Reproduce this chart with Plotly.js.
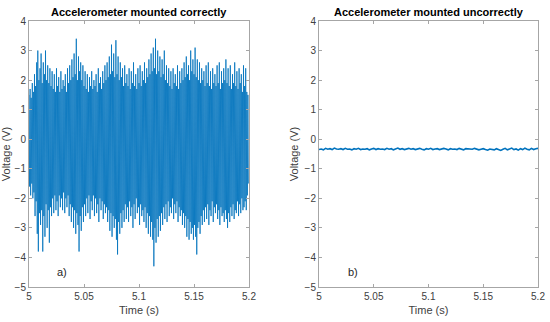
<!DOCTYPE html>
<html>
<head>
<meta charset="utf-8">
<script src="https://cdn.plot.ly/plotly-3.0.1.min.js"></script>
<style>html,body{margin:0;padding:0;background:#fff;}#chart{width:550px;height:322px;}</style>
</head>
<body>
<div id="chart"></div>
<script>
// Panel a): upper and lower peaks of the signal, one pair per millisecond from 5.000 s
const upperPeaksA = [
 1.5,1.7,1.4,1.9,1.6,2.2,1.8,2.6,3.0,2.0,
 2.4,2.9,1.9,2.6,2.2,3.0,2.0,2.5,1.9,2.4,
 1.8,2.3,1.7,2.2,1.6,2.4,1.8,2.1,1.6,2.3,
 1.7,2.0,1.8,2.2,1.6,2.4,1.9,2.5,2.0,2.7,
 2.1,2.9,2.2,3.4,2.0,2.8,2.3,2.6,2.0,2.5,
 1.8,2.3,1.7,2.2,1.6,2.1,1.8,2.3,1.7,2.0,
 1.8,2.2,1.6,2.4,1.9,2.1,1.7,2.3,1.9,2.5,
 2.0,2.6,2.1,2.8,2.2,3.2,2.3,2.9,2.1,3.35,
 2.2,2.8,2.0,2.6,2.1,2.4,1.8,2.5,1.9,2.2,
 1.8,2.4,1.7,2.3,1.9,2.6,1.8,2.2,1.7,2.4,
 1.9,2.5,1.8,2.3,2.0,2.6,1.9,2.4,2.1,2.7,
 2.2,2.9,2.3,3.1,2.4,3.4,2.2,3.0,2.3,2.8,
 2.1,2.7,2.2,3.0,2.0,2.5,1.9,2.4,1.8,2.3,
 1.7,2.4,1.9,2.2,1.8,2.5,1.7,2.3,1.9,2.4,
 2.0,2.6,2.1,2.8,2.2,2.5,2.0,3.0,2.3,2.7,
 2.2,3.1,2.1,2.7,2.0,2.6,1.9,2.4,2.0,2.3,
 1.8,2.5,1.9,2.6,1.8,2.3,1.7,2.4,1.9,2.2,
 1.8,2.5,1.9,2.6,1.7,2.3,1.9,2.4,2.0,2.7,
 1.9,2.4,1.8,2.5,1.7,2.2,1.9,2.6,1.8,2.3,
 1.7,2.4,1.9,2.2,1.6,2.5,1.8,2.4,1.6,1.5
];
const lowerPeaksA = [
 -1.6,-1.9,-1.5,-2.0,-1.8,-2.6,-2.1,-3.2,-3.8,-2.5,
 -2.9,-2.4,-3.8,-2.6,-3.3,-2.2,-3.0,-2.4,-3.5,-2.3,
 -2.6,-2.0,-2.5,-1.9,-2.4,-2.1,-2.6,-1.9,-2.3,-2.0,
 -2.4,-1.8,-2.5,-2.0,-2.3,-1.9,-2.6,-2.2,-2.8,-2.3,
 -3.0,-2.4,-3.2,-2.5,-2.9,-3.8,-2.6,-3.1,-2.3,-2.8,
 -2.2,-2.6,-2.0,-2.5,-1.9,-2.7,-2.1,-2.4,-1.9,-2.6,
 -2.0,-2.5,-2.2,-2.8,-2.0,-2.4,-2.1,-2.7,-2.2,-2.5,
 -2.3,-2.8,-2.4,-3.1,-2.5,-3.3,-2.6,-3.0,-2.7,-3.4,
 -3.9,-2.8,-3.2,-2.5,-3.0,-2.4,-2.8,-2.2,-2.7,-2.3,
 -2.8,-2.1,-2.6,-2.3,-3.0,-2.2,-2.7,-2.0,-2.5,-2.3,
 -2.9,-2.2,-2.6,-2.4,-2.8,-2.3,-3.0,-2.5,-3.2,-2.6,
 -3.3,-2.8,-3.4,-4.3,-3.0,-3.5,-2.7,-3.3,-2.6,-3.1,
 -2.5,-2.9,-2.3,-2.7,-2.2,-2.8,-2.1,-2.6,-2.3,-2.5,
 -2.0,-2.7,-2.2,-2.5,-2.1,-2.8,-2.3,-2.6,-2.4,-2.9,
 -2.5,-3.0,-2.6,-3.3,-2.7,-3.4,-2.8,-3.2,-3.0,-3.4,
 -2.9,-3.3,-3.9,-3.0,-2.8,-3.2,-2.6,-2.9,-2.4,-2.8,
 -2.3,-2.7,-2.2,-2.9,-2.4,-2.6,-2.1,-2.8,-2.3,-2.5,
 -2.2,-2.7,-2.4,-2.9,-2.3,-2.6,-2.5,-2.8,-2.4,-2.7,
 -3.0,-2.5,-2.8,-2.3,-2.6,-2.2,-2.7,-2.4,-2.5,-2.1,
 -2.6,-2.2,-2.5,-2.0,-2.4,-2.3,-2.1,-2.4,-1.9,-1.5
];
// Panel b): voltage every 2 ms from 5.000 s
const voltageB = [
 -0.35,-0.33,-0.36,-0.31,-0.34,-0.32,-0.35,-0.30,-0.33,-0.34,
 -0.32,-0.35,-0.31,-0.34,-0.33,-0.36,-0.32,-0.34,-0.31,-0.35,
 -0.33,-0.34,-0.32,-0.36,-0.33,-0.31,-0.35,-0.32,-0.34,-0.33,
 -0.35,-0.31,-0.34,-0.32,-0.36,-0.33,-0.30,-0.34,-0.32,-0.35,
 -0.33,-0.31,-0.34,-0.32,-0.35,-0.33,-0.31,-0.34,-0.36,-0.32,
 -0.34,-0.31,-0.35,-0.33,-0.32,-0.35,-0.34,-0.31,-0.33,-0.36,
 -0.32,-0.34,-0.33,-0.35,-0.31,-0.34,-0.36,-0.32,-0.33,-0.35,
 -0.34,-0.31,-0.33,-0.36,-0.34,-0.32,-0.35,-0.37,-0.33,-0.34,
 -0.36,-0.32,-0.35,-0.38,-0.34,-0.31,-0.36,-0.33,-0.30,-0.35,
 -0.33,-0.37,-0.32,-0.35,-0.30,-0.34,-0.36,-0.31,-0.35,-0.32,-0.31
];
const xTickVals = [5, 5.05, 5.1, 5.15, 5.2];
const xTickText = ['5', '5.05', '5.1', '5.15', '5.2'];
const yTickVals = [-5, -4, -3, -2, -1, 0, 1, 2, 3, 4];
const panelTitles = ['Accelerometer mounted correctly', 'Accelerometer mounted uncorrectly'];
const panelLabels = ['a)', 'b)'];
const xTitle = 'Time (s)';
const yTitle = 'Voltage (V)';
const t0 = 5, dtA = 0.001, dtB = 0.002;

const xA = [], yA = [];
for (let i = 0; i < upperPeaksA.length; i++) {
  xA.push(t0 + i * dtA); yA.push(upperPeaksA[i]);
  xA.push(t0 + (i + 0.5) * dtA); yA.push(lowerPeaksA[i]);
}
const xB = voltageB.map((_, i) => t0 + i * dtB);

const blue = '#0072BD';
const traces = [
  {x: xA, y: yA, type: 'scatter', mode: 'lines', line: {color: blue, width: 0.8}, xaxis: 'x', yaxis: 'y', hoverinfo: 'skip'},
  {x: xB, y: voltageB, type: 'scatter', mode: 'lines', line: {color: blue, width: 1.6}, xaxis: 'x2', yaxis: 'y2', hoverinfo: 'skip'}
];

const fontFam = 'Liberation Sans, Arial, sans-serif';
const axisCommon = {
  showgrid: false, zeroline: false, showline: true, linecolor: '#a6a6a6', linewidth: 1,
  mirror: 'ticks', ticks: 'inside', ticklen: 3, tickcolor: '#a6a6a6',
  tickfont: {family: fontFam, size: 10, color: '#404040'},
  fixedrange: true
};
const xAxis = (dom, anchor) => Object.assign({}, axisCommon, {
  domain: dom, anchor: anchor, range: [5, 5.2], tickvals: xTickVals, ticktext: xTickText,
  title: {text: xTitle, standoff: 5, font: {family: fontFam, size: 11, color: '#404040'}}
});
const yAxis = (anchor) => Object.assign({}, axisCommon, {
  domain: [1 - 287/322, 1 - 21/322], anchor: anchor, range: [-5, 4], tickvals: yTickVals,
  title: {text: yTitle, standoff: 3, font: {family: fontFam, size: 11, color: '#404040'}}
});

const layout = {
  width: 550, height: 322, margin: {l: 0, r: 0, t: 0, b: 0},
  paper_bgcolor: '#fff', plot_bgcolor: '#fff', showlegend: false,
  xaxis: xAxis([29/550, 249/550], 'y'),
  yaxis: yAxis('x'),
  xaxis2: xAxis([319/550, 538/550], 'y2'),
  yaxis2: yAxis('x2'),
  annotations: [
    {text: '<b>' + panelTitles[0] + '</b>', xref: 'paper', yref: 'paper', x: 139/550, y: 1 - 12/322, showarrow: false, xanchor: 'center', yanchor: 'middle', font: {family: fontFam, size: 11, color: '#000'}},
    {text: '<b>' + panelTitles[1] + '</b>', xref: 'paper', yref: 'paper', x: 428.5/550, y: 1 - 12/322, showarrow: false, xanchor: 'center', yanchor: 'middle', font: {family: fontFam, size: 11, color: '#000'}},
    {text: panelLabels[0], xref: 'paper', yref: 'paper', x: 55/550, y: 1 - 272/322, showarrow: false, xanchor: 'left', yanchor: 'middle', font: {family: fontFam, size: 11, color: '#262626'}},
    {text: panelLabels[1], xref: 'paper', yref: 'paper', x: 346/550, y: 1 - 272/322, showarrow: false, xanchor: 'left', yanchor: 'middle', font: {family: fontFam, size: 11, color: '#262626'}}
  ]
};

Plotly.newPlot('chart', traces, layout, {staticPlot: true, displayModeBar: false});
</script>
</body>
</html>
